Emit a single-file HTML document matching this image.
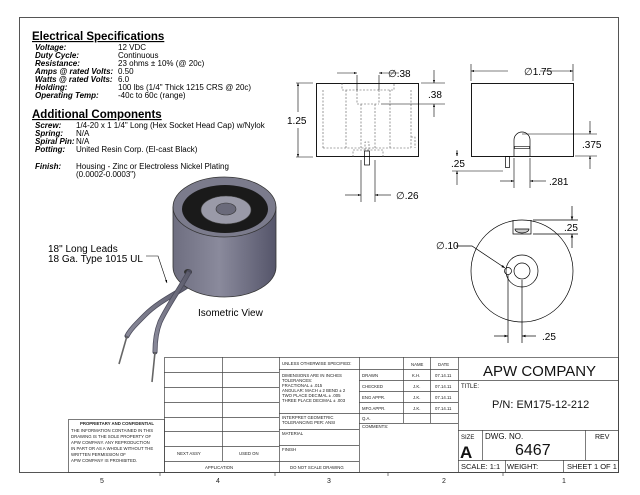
<!DOCTYPE html>
<html><head><meta charset="utf-8"><style>
html,body{margin:0;padding:0;background:#fff;}
svg{display:block;font-family:"Liberation Sans",sans-serif;}
</style></head><body>
<svg width="640" height="495" viewBox="0 0 640 495" xmlns="http://www.w3.org/2000/svg">
<defs>
<marker id="ar" viewBox="0 0 10 10" refX="10" refY="5" markerWidth="6" markerHeight="5" orient="auto-start-reverse"><path d="M0,1.5L10,5L0,8.5z" fill="#000"/></marker>
<linearGradient id="cyl" x1="0" x2="1"><stop offset="0" stop-color="#6e6e80"/><stop offset="0.45" stop-color="#8a8a9c"/><stop offset="1" stop-color="#55556a"/></linearGradient>
<linearGradient id="lead" x1="0" x2="1"><stop offset="0" stop-color="#888898"/><stop offset="1" stop-color="#5a5a6a"/></linearGradient>
</defs>
<rect width="640" height="495" fill="#fff"/>
<rect x="19.5" y="17.5" width="599" height="455" fill="none" stroke="#555" stroke-width="1"/>

<!-- Specs text -->
<g font-size="8" fill="#000">
<text x="32" y="40" font-size="11.5" font-weight="bold" text-decoration="underline">Electrical Specifications</text>
<g font-weight="bold" font-style="italic">
<text x="35" y="50">Voltage:</text><text x="35" y="58">Duty Cycle:</text><text x="35" y="66">Resistance:</text>
<text x="35" y="74">Amps @ rated Volts:</text><text x="35" y="82">Watts @ rated Volts:</text><text x="35" y="90">Holding:</text><text x="35" y="98">Operating Temp:</text>
</g>
<text x="118" y="50">12 VDC</text><text x="118" y="58">Continuous</text><text x="118" y="66">23 ohms ± 10% (@ 20c)</text>
<text x="118" y="74">0.50</text><text x="118" y="82">6.0</text><text x="118" y="90">100 lbs (1/4" Thick 1215 CRS @ 20c)</text><text x="118" y="98">-40c to 60c (range)</text>
<text x="32" y="118" font-size="11.5" font-weight="bold" text-decoration="underline">Additional Components</text>
<g font-weight="bold" font-style="italic">
<text x="35" y="128">Screw:</text><text x="35" y="136">Spring:</text><text x="35" y="144">Spiral Pin:</text><text x="35" y="152">Potting:</text><text x="35" y="169">Finish:</text>
</g>
<text x="76" y="128">1/4-20 x 1 1/4" Long  (Hex Socket Head Cap) w/Nylok</text>
<text x="76" y="136">N/A</text><text x="76" y="144">N/A</text><text x="76" y="152">United Resin Corp. (El-cast Black)</text>
<text x="76" y="169">Housing - Zinc or Electroless Nickel Plating</text><text x="76" y="177">(0.0002-0.0003")</text>
</g>

<!-- Isometric -->
<g>
<path d="M193,282 C180,292 160,300 145,315 C135,325 130,330 127,336" stroke="#4a4a5a" stroke-width="5" fill="none" stroke-linecap="round"/>
<path d="M193,282 C180,292 160,300 145,315 C135,325 130,330 127,336" stroke="url(#lead)" stroke-width="3.5" fill="none"/>
<line x1="127" y1="336" x2="119" y2="364" stroke="#666" stroke-width="1.6"/>
<path d="M173,207 L173,267 A51.5,30 0 0 0 276,267 L276,207 Z" fill="url(#cyl)" stroke="#333" stroke-width="0.8"/>
<ellipse cx="224.5" cy="207" rx="51.5" ry="30" fill="#7b7b8c" stroke="#333" stroke-width="0.8"/>
<ellipse cx="225" cy="209" rx="43" ry="24" fill="#1a1a1a"/>
<ellipse cx="226" cy="210" rx="25" ry="14" fill="#9a9aa8" stroke="#444" stroke-width="0.6"/>
<ellipse cx="226" cy="209" rx="10" ry="6" fill="#6a6a7a" stroke="#333" stroke-width="0.6"/>
<ellipse cx="188" cy="272" rx="4" ry="3" fill="#333"/>
<path d="M189,272 C178,292 168,305 160,322 C156,332 155,342 155,352" stroke="#4a4a5a" stroke-width="5" fill="none" stroke-linecap="round"/>
<path d="M189,272 C178,292 168,305 160,322 C156,332 155,342 155,352" stroke="url(#lead)" stroke-width="3.5" fill="none"/>
<line x1="155" y1="352" x2="152" y2="382" stroke="#666" stroke-width="1.6"/>
</g>
<text x="48" y="252" font-size="10">18" Long Leads</text>
<text x="48" y="262" font-size="10">18 Ga. Type 1015 UL</text>
<polyline points="146,256 158,256 167,283" fill="none" stroke="#000" stroke-width="0.6" marker-end="url(#ar)"/>
<text x="198" y="316" font-size="10">Isometric View</text>

<!-- Side view -->
<g stroke="#000" fill="none" stroke-width="0.9">
<rect x="316.5" y="83.5" width="102" height="73"/>
</g>
<g stroke="#555" fill="none" stroke-width="0.6" stroke-dasharray="2,1.5">
<path d="M342,83 V90 H394 V83"/>
<line x1="323" y1="90" x2="323" y2="148"/><line x1="411" y1="90" x2="411" y2="148"/>
<line x1="346" y1="90" x2="346" y2="148"/><line x1="390" y1="90" x2="390" y2="148"/>
<line x1="357" y1="90" x2="357" y2="104"/><line x1="379" y1="90" x2="379" y2="104"/>
<line x1="357" y1="104" x2="379" y2="104"/>
<line x1="361" y1="104" x2="361" y2="148"/><line x1="375" y1="104" x2="375" y2="148"/>
<line x1="323" y1="148" x2="411" y2="148"/>
<path d="M353,157 V150 H383 V157"/>
<path d="M365,150 V142 H369 V150"/>
<path d="M411,137 H415 V148"/>
</g>
<rect x="364.5" y="151" width="5" height="14" fill="none" stroke="#000" stroke-width="0.7"/>
<g stroke="#000" stroke-width="0.6" fill="none">
<line x1="357" y1="75" x2="357" y2="90"/><line x1="379" y1="75" x2="379" y2="90"/>
<line x1="337" y1="73" x2="357" y2="73" marker-end="url(#ar)"/><line x1="399" y1="73" x2="379" y2="73" marker-end="url(#ar)"/>
<line x1="421" y1="83" x2="445" y2="83"/><line x1="381" y1="104" x2="445" y2="104"/>
<line x1="434" y1="70" x2="434" y2="83" marker-end="url(#ar)"/><line x1="434" y1="117" x2="434" y2="104" marker-end="url(#ar)"/>
<line x1="296" y1="83" x2="313" y2="83"/><line x1="296" y1="157" x2="313" y2="157"/>
<line x1="298" y1="112" x2="298" y2="83" marker-end="url(#ar)"/><line x1="298" y1="128" x2="298" y2="157" marker-end="url(#ar)"/>
<line x1="361" y1="160" x2="361" y2="202"/><line x1="375" y1="160" x2="375" y2="202"/>
<line x1="345" y1="195" x2="361" y2="195" marker-end="url(#ar)"/><line x1="391" y1="195" x2="375" y2="195" marker-end="url(#ar)"/>
</g>
<text x="388" y="77" font-size="10">∅.38</text>
<text x="428" y="98" font-size="10">.38</text>
<text x="287" y="124" font-size="10">1.25</text>
<text x="396" y="199" font-size="10">∅.26</text>

<!-- Front view -->
<rect x="471.5" y="83.5" width="102" height="73" fill="none" stroke="#000" stroke-width="0.9"/>
<path d="M514,156 V140 A8,8 0 0 1 530,140 V156" fill="none" stroke="#000" stroke-width="0.7"/>
<rect x="514.5" y="146.5" width="15" height="2" fill="none" stroke="#000" stroke-width="0.6"/>
<rect x="505.5" y="156.5" width="4" height="11" fill="none" stroke="#000" stroke-width="0.7"/>
<g stroke="#000" stroke-width="0.6" fill="none">
<line x1="471" y1="64" x2="471" y2="81"/><line x1="573" y1="64" x2="573" y2="81"/>
<line x1="508" y1="71" x2="471" y2="71" marker-end="url(#ar)"/><line x1="540" y1="71" x2="573" y2="71" marker-end="url(#ar)"/>
<line x1="522" y1="134" x2="597" y2="134"/><line x1="575" y1="156" x2="597" y2="156"/>
<line x1="590" y1="121" x2="590" y2="134" marker-end="url(#ar)"/><line x1="590" y1="169" x2="590" y2="156" marker-end="url(#ar)"/>
<line x1="452" y1="171" x2="503" y2="171"/>
<line x1="457" y1="151" x2="457" y2="156" /><line x1="457" y1="150" x2="457" y2="156" marker-end="url(#ar)"/>
<line x1="457" y1="185" x2="457" y2="171" marker-end="url(#ar)"/>
<line x1="514" y1="158" x2="514" y2="188"/><line x1="530" y1="158" x2="530" y2="188"/>
<line x1="500" y1="181" x2="514" y2="181" marker-end="url(#ar)"/><line x1="546" y1="181" x2="530" y2="181" marker-end="url(#ar)"/>
</g>
<text x="524" y="75" font-size="10">∅1.75</text>
<text x="582" y="148" font-size="10">.375</text>
<text x="451" y="167" font-size="10">.25</text>
<text x="549" y="185" font-size="10">.281</text>

<!-- Circle view -->
<g stroke="#000" stroke-width="0.7" fill="none">
<circle cx="522" cy="271" r="51"/>
<circle cx="522" cy="271" r="16"/>
<circle cx="522" cy="271" r="8"/>
<circle cx="508" cy="271" r="3.5"/>
<path d="M513,220 V234 H531 V220"/>
<path d="M515,229 A7,4 0 0 0 529,229 Z" fill="#ccc"/>
<line x1="533" y1="220" x2="578" y2="220"/><line x1="533" y1="234" x2="578" y2="234"/>
<line x1="572" y1="206" x2="572" y2="220" marker-end="url(#ar)"/><line x1="572" y1="248" x2="572" y2="234" marker-end="url(#ar)"/>
<polyline points="456,246 472,246 505,268" marker-end="url(#ar)"/>
<line x1="508" y1="275" x2="508" y2="343"/><line x1="522" y1="280" x2="522" y2="343"/>
<line x1="494" y1="336" x2="508" y2="336" marker-end="url(#ar)"/><line x1="536" y1="336" x2="522" y2="336" marker-end="url(#ar)"/>
</g>
<text x="436" y="249" font-size="10">∅.10</text>
<text x="564" y="231" font-size="10">.25</text>
<text x="542" y="340" font-size="10">.25</text>

<!-- Title block -->
<g stroke="#444" stroke-width="0.7" fill="none">
<rect x="164.5" y="357.5" width="454" height="115"/>
<line x1="222.5" y1="357" x2="222.5" y2="461"/>
<line x1="164" y1="372.5" x2="279" y2="372.5"/><line x1="164" y1="387.5" x2="279" y2="387.5"/>
<line x1="164" y1="402.5" x2="279" y2="402.5"/><line x1="164" y1="417.5" x2="279" y2="417.5"/>
<line x1="164" y1="431.5" x2="279" y2="431.5"/><line x1="164" y1="446.5" x2="279" y2="446.5"/>
<line x1="164" y1="461.5" x2="359" y2="461.5"/>
<line x1="279.5" y1="357" x2="279.5" y2="472"/>
<line x1="359.5" y1="357" x2="359.5" y2="472"/>
<line x1="279" y1="369.5" x2="458" y2="369.5"/>
<line x1="279" y1="413.5" x2="359" y2="413.5"/>
<line x1="279" y1="429.5" x2="359" y2="429.5"/>
<line x1="279" y1="445.5" x2="359" y2="445.5"/>
<line x1="359" y1="380.5" x2="458" y2="380.5"/><line x1="359" y1="391.5" x2="458" y2="391.5"/>
<line x1="359" y1="402.5" x2="458" y2="402.5"/><line x1="359" y1="413.5" x2="458" y2="413.5"/>
<line x1="359" y1="423.5" x2="458" y2="423.5"/>
<line x1="403.5" y1="357" x2="403.5" y2="423"/><line x1="430.5" y1="357" x2="430.5" y2="423"/>
<line x1="458.5" y1="357" x2="458.5" y2="472"/>
<line x1="458" y1="380.5" x2="618" y2="380.5"/>
<line x1="458" y1="430.5" x2="618" y2="430.5"/>
<line x1="458" y1="460.5" x2="618" y2="460.5"/>
<line x1="482.5" y1="430" x2="482.5" y2="460"/><line x1="585.5" y1="430" x2="585.5" y2="460"/>
<line x1="505.5" y1="460" x2="505.5" y2="472"/><line x1="563.5" y1="460" x2="563.5" y2="472"/>
<rect x="68.5" y="419.5" width="96" height="53"/>
</g>
<g font-size="4.3" fill="#222">
<text x="282" y="365">UNLESS OTHERWISE SPECIFIED:</text>
<text x="282" y="377">DIMENSIONS ARE IN INCHES</text><text x="282" y="382">TOLERANCES:</text>
<text x="282" y="387">FRACTIONAL ± .015</text><text x="282" y="392">ANGULAR: MACH ± 2    BEND ± 2</text>
<text x="282" y="397">TWO PLACE DECIMAL    ± .005</text><text x="282" y="402">THREE PLACE DECIMAL  ± .003</text>
<text x="282" y="419">INTERPRET GEOMETRIC</text><text x="282" y="424">TOLERANCING PER: ANSI</text>
<text x="282" y="435">MATERIAL</text><text x="282" y="451">FINISH</text>
<text x="290" y="469">DO NOT SCALE DRAWING</text>
<text x="411" y="366">NAME</text><text x="438" y="366">DATE</text>
<text x="362" y="377">DRAWN</text><text x="412" y="377">K.H.</text><text x="435" y="377">07.14.11</text>
<text x="362" y="388">CHECKED</text><text x="413" y="388">J.K.</text><text x="435" y="388">07.14.11</text>
<text x="362" y="399">ENG APPR.</text><text x="413" y="399">J.K.</text><text x="435" y="399">07.14.11</text>
<text x="362" y="410">MFG APPR.</text><text x="413" y="410">J.K.</text><text x="435" y="410">07.14.11</text>
<text x="362" y="420">Q.A.</text><text x="362" y="428">COMMENTS:</text>
<text x="177" y="455">NEXT ASSY</text><text x="239" y="455">USED ON</text>
<text x="205" y="469">APPLICATION</text>
<text x="80" y="425" font-weight="bold">PROPRIETARY AND CONFIDENTIAL</text>
<text x="71" y="432">THE INFORMATION CONTAINED IN THIS</text>
<text x="71" y="438">DRAWING IS THE SOLE PROPERTY OF</text>
<text x="71" y="444">APW COMPANY.  ANY REPRODUCTION</text>
<text x="71" y="450">IN PART OR AS A WHOLE WITHOUT THE</text>
<text x="71" y="456">WRITTEN PERMISSION OF</text>
<text x="71" y="462">APW COMPANY IS PROHIBITED.</text>
</g>
<g fill="#111">
<text x="483" y="376" font-size="15">APW COMPANY</text>
<text x="461" y="388" font-size="6">TITLE:</text>
<text x="492" y="408" font-size="11">P/N: EM175-12-212</text>
<text x="461" y="439" font-size="6">SIZE</text>
<text x="460" y="458" font-size="17" font-weight="bold">A</text>
<text x="485" y="439" font-size="8">DWG.  NO.</text>
<text x="515" y="455" font-size="16">6467</text>
<text x="595" y="439" font-size="7">REV</text>
<text x="461" y="469" font-size="7.5">SCALE: 1:1</text>
<text x="507" y="469" font-size="7.5">WEIGHT:</text>
<text x="567" y="469" font-size="7.5">SHEET 1 OF 1</text>
</g>
<g stroke="#444" stroke-width="0.7">
<line x1="160" y1="472" x2="160" y2="476"/><line x1="388" y1="472" x2="388" y2="476"/><line x1="503" y1="472" x2="503" y2="476"/><line x1="275" y1="472" x2="275" y2="476"/>
</g>
<g font-size="7" fill="#222">
<text x="100" y="483">5</text><text x="216" y="483">4</text><text x="327" y="483">3</text><text x="442" y="483">2</text><text x="562" y="483">1</text>
</g>
</svg>
</body></html>
